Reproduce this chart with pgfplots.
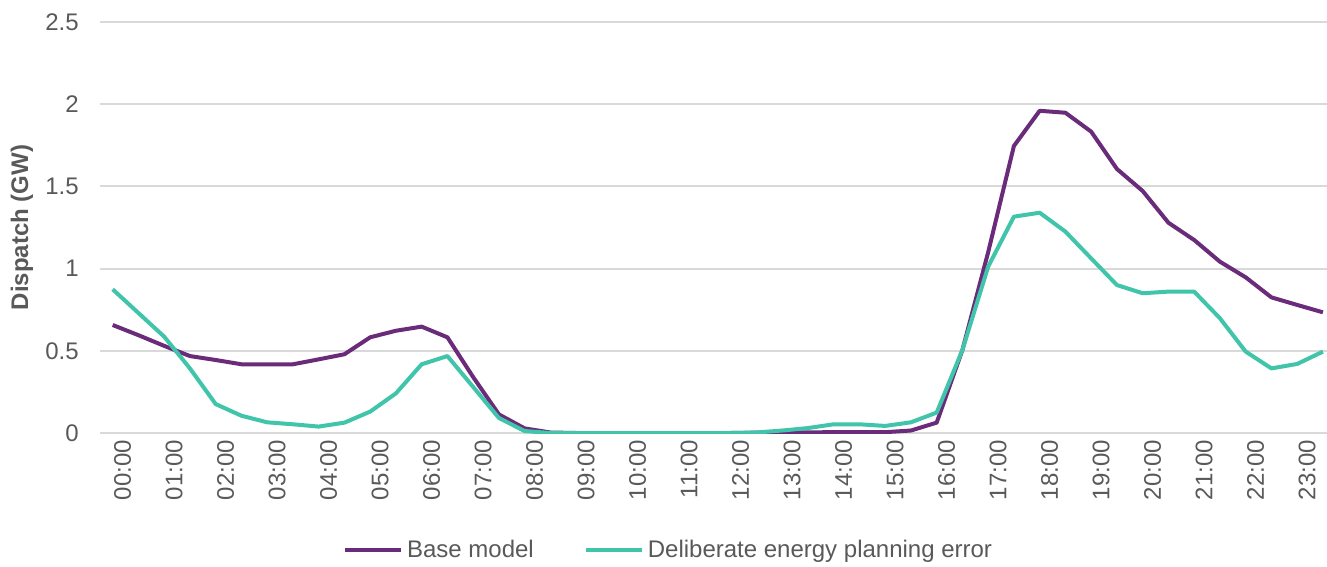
\documentclass[border=0pt]{standalone}
\usepackage{pgfplots}
\pgfplotsset{compat=1.18}
\usepackage{pgfplotstable}
\usepackage{fontspec}
\setmainfont{Liberation Sans}

\definecolor{basepurple}{HTML}{6A2C7A}
\definecolor{errteal}{HTML}{40C4AA}
\definecolor{gridgray}{HTML}{D9D9D9}
\definecolor{txtgray}{HTML}{595959}

% Half-hourly dispatch, slot 0 = 00:00 ... slot 47 = 23:30
\pgfplotstableread{
slot base err
0  0.657 0.874
1  0.595 0.730
2  0.530 0.586
3  0.468 0.393
4  0.444 0.176
5  0.418 0.105
6  0.418 0.065
7  0.418 0.053
8  0.448 0.039
9  0.479 0.063
10 0.582 0.130
11 0.622 0.241
12 0.647 0.418
13 0.582 0.468
14 0.340 0.280
15 0.113 0.091
16 0.028 0.012
17 0.003 0.000
18 0.000 0.000
19 0.000 0.000
20 0.000 0.000
21 0.000 0.000
22 0.000 0.000
23 0.000 0.000
24 0.000 0.000
25 0.002 0.003
26 0.003 0.015
27 0.004 0.030
28 0.005 0.053
29 0.005 0.053
30 0.005 0.043
31 0.015 0.065
32 0.063 0.124
33 0.505 0.505
34 1.100 1.012
35 1.746 1.316
36 1.960 1.340
37 1.948 1.225
38 1.833 1.062
39 1.606 0.900
40 1.472 0.850
41 1.279 0.860
42 1.174 0.860
43 1.042 0.698
44 0.947 0.495
45 0.825 0.393
46 0.779 0.420
47 0.734 0.495
}\dispatch

\begin{document}
\begin{tikzpicture}[font=\fontsize{12pt}{14pt}\selectfont, text=txtgray]
\path[use as bounding box] (-49.9pt,-67pt) rectangle (613.6pt,216.5pt);
\begin{axis}[
  scale only axis,
  width=618pt, height=205.5pt,
  xmin=-0.5, xmax=47.5,
  ymin=0, ymax=2.5,
  axis line style={draw=none},
  major tick length=0pt,
  ymajorgrids,
  grid style={gridgray, line width=1pt},
  ytick={0,0.5,1,1.5,2,2.5},
  yticklabels={0,0.5,1,1.5,2,2.5},
  yticklabel style={anchor=east, xshift=-7pt, text=txtgray},
  xtick={0,2,...,46},
  xticklabels={00:00,01:00,02:00,03:00,04:00,05:00,06:00,07:00,08:00,09:00,10:00,11:00,12:00,13:00,14:00,15:00,16:00,17:00,18:00,19:00,20:00,21:00,22:00,23:00},
  xticklabel style={rotate=90, anchor=east, yshift=-5pt, text=txtgray},
  ylabel={\bfseries Dispatch (GW)},
  ylabel style={at={(axis description cs:-0.0631,0.5)}, anchor=center, text=txtgray},
  /pgf/number format/assume math mode=true,
  legend columns=2,
  legend style={draw=none, fill=none, at={(axis description cs:0.461,-0.285)}, anchor=center,
    font=\fontsize{12pt}{14pt}\selectfont, text=txtgray,
    /tikz/every even column/.append style={column sep=23pt}},
  legend image code/.code={\draw[#1, line width=2pt] (0pt,0pt) -- (28pt,0pt);},
  every axis plot/.append style={line width=2pt, line join=round, mark=none},
]
\addplot[basepurple] table[x=slot, y=base] {\dispatch};
\addlegendentry{Base model}
\addplot[errteal] table[x=slot, y=err] {\dispatch};
\addlegendentry{Deliberate energy planning error}
\end{axis}
\end{tikzpicture}
\end{document}
